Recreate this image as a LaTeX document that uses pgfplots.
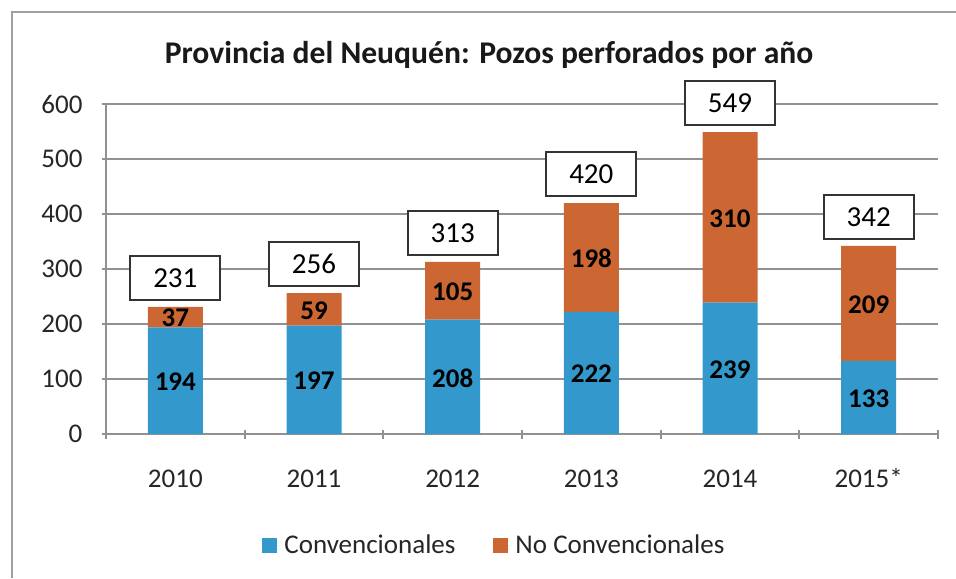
\documentclass[border=0pt]{standalone}
\usepackage{fontspec}
\setmainfont{Carlito}
\usepackage{pgfplots}
\pgfplotsset{compat=1.18}
\definecolor{conv}{RGB}{51,153,204}
\definecolor{noconv}{RGB}{204,102,51}
\definecolor{gridc}{RGB}{145,145,145}
\begin{document}
\begin{tikzpicture}
\useasboundingbox (0,0) rectangle (478pt,289pt);
\fill[white] (0,0) rectangle (478pt,289pt);
\draw[gray!75, line width=1.2pt] (6pt,0) -- (6pt,283pt) -- (478pt,283pt);
\node[font=\bfseries\fontsize{15.8}{17}\selectfont, text=black!90] at (244.5pt,261.5pt) {Provincia del Neuquén: Pozos perforados por año};
\begin{axis}[
  at={(53pt,72pt)}, anchor=south west,
  scale only axis, width=416pt, height=165pt,
  ybar stacked, bar width=27.5pt,
  xmin=-0.5, xmax=5.5, ymin=0, ymax=600,
  ytick={0,100,...,600},
  xtick={0,...,5}, xticklabels={2010,2011,2012,2013,2014,2015*},
  minor xtick={-0.5,0.5,...,5.5},
  major x tick style={draw=none},
  tick align=outside,
  major tick length=4.5pt, minor tick length=4.5pt,
  tick style={gridc, line width=1pt},
  axis lines=left,
  axis line style={-, gridc, line width=1.2pt},
  ymajorgrids, grid style={gridc, line width=1pt},
  /pgf/number format/assume math mode=true,
  ticklabel style={font=\fontsize{13.5}{15}\selectfont, text=black!85},
  xticklabel style={anchor=base, yshift=-24.5pt},
  yticklabel style={xshift=-6pt},
  legend style={at={(0.468,-0.339)}, anchor=center, draw=none, fill=none,
    legend columns=2, font=\fontsize{13.5}{15}\selectfont, text=black!85,
    /tikz/every even column/.append style={column sep=17pt}},
  legend image code/.code={\fill[#1] (0pt,-3.75pt) rectangle (7.5pt,3.75pt); \path (0pt,0pt) -- (9pt,0pt);},
]
\addplot[fill=conv, draw=none] coordinates {(0,194) (1,197) (2,208) (3,222) (4,239) (5,133)};
\addlegendentry{Convencionales}
\addplot[fill=noconv, draw=none] coordinates {(0,37) (1,59) (2,105) (3,198) (4,310) (5,209)};
\addlegendentry{No Convencionales}
\end{axis}
\begin{axis}[
  at={(53pt,72pt)}, anchor=south west,
  scale only axis, width=416pt, height=165pt,
  xmin=-0.5, xmax=5.5, ymin=0, ymax=600,
  hide axis, clip=false,
]
% segment labels at segment centres
\addplot[draw=none, nodes near coords, point meta=explicit symbolic,
  nodes near coords align=center,
  every node near coord/.append style={anchor=center, font=\bfseries\fontsize{13.5}{15}\selectfont, text=black}]
  coordinates {(0,95)[194] (1,96.5)[197] (2,102)[208] (3,109)[222] (4,116)[239] (5,63.5)[133]
               (0,210.5)[37] (1,224.5)[59] (2,258.5)[105] (3,319)[198] (4,392)[310] (5,235.5)[209]};
% totals in boxes
\addplot[draw=none, nodes near coords, point meta=explicit symbolic,
  every node near coord/.append style={anchor=south, yshift=3pt, draw=black!80, line width=0.9pt,
    fill=white, minimum width=45pt, minimum height=22pt, inner sep=0pt,
    font=\fontsize{14.5}{16}\selectfont, text=black}]
  coordinates {(0,231)[231] (1,256)[256] (2,313)[313] (3,420)[420] (4,549)[549] (5,342)[342]};
\end{axis}
\end{tikzpicture}
\end{document}
